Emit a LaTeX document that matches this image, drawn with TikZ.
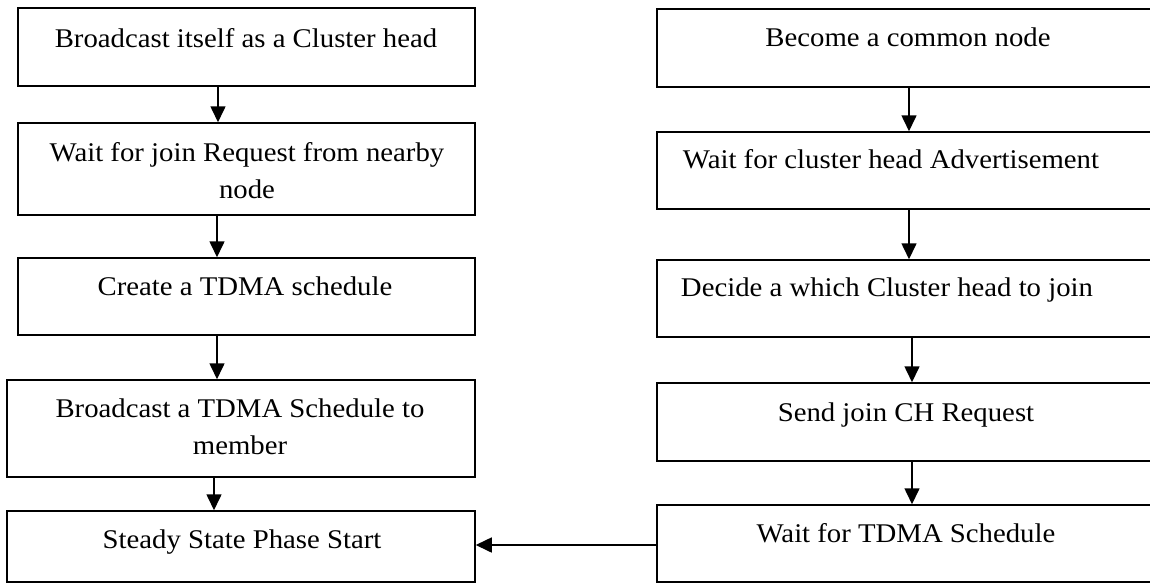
\documentclass[tikz,border=0pt]{standalone}
\usepackage{fontspec}
\setmainfont[FakeStretch=1.065]{Liberation Serif}
\usetikzlibrary{arrows.meta}
\begin{document}
\begin{tikzpicture}[x=1pt,y=-1pt,
  box/.style={draw=black, line width=1.5pt, fill=white, inner sep=0pt},
  txt/.style={font=\fontsize{27}{37}\selectfont, anchor=base, align=center, inner sep=0pt},
  arr/.style={line width=1.6pt, -{Triangle[length=16pt,width=15pt]}}]
\useasboundingbox (0,0) rectangle (1150,584);
\clip (0,0) rectangle (1150,584);
\fill[white] (0,0) rectangle (1150,584);
% left column boxes
\node[box, minimum width=457pt, minimum height=78pt] (b1) at (246.5,47) {};
\node[box, minimum width=457pt, minimum height=92pt] (b2) at (246.5,169) {};
\node[box, minimum width=457pt, minimum height=77pt] (b3) at (246.5,296.5) {};
\node[box, minimum width=468pt, minimum height=97pt] (b4) at (241,428.5) {};
\node[box, minimum width=468pt, minimum height=71pt] (b5) at (241,546.5) {};
% right column boxes
\node[box, minimum width=506pt, minimum height=78pt] (r1) at (910,48) {};
\node[box, minimum width=506pt, minimum height=77pt] (r2) at (910,170.5) {};
\node[box, minimum width=506pt, minimum height=77pt] (r3) at (910,298.5) {};
\node[box, minimum width=506pt, minimum height=78pt] (r4) at (910,422) {};
\node[box, minimum width=506pt, minimum height=77pt] (r5) at (910,543.5) {};
% texts
\node[txt] (t1) at (246,47) {Broadcast itself as a Cluster head};
\node[txt] (t2) at (247,198) {Wait for join Request from nearby\\node};
\node[txt] (t3) at (245,295) {Create a TDMA schedule};
\node[txt] (t4) at (240,454) {Broadcast a TDMA Schedule to\\member};
\node[txt] (t5) at (242,548) {Steady State Phase Start};
\node[txt] (u1) at (908,46) {Become a common node};
\node[txt] (u2) at (891,168) {Wait for cluster head Advertisement};
\node[txt] (u3) at (887,296) {Decide a which Cluster head to join};
\node[txt] (u4) at (906,421) {Send join CH Request};
\node[txt] (u5) at (906,542) {Wait for TDMA Schedule};
% connectors
\draw[arr] (b1.south -| 218,0) -- (b2.north -| 218,0);
\draw[arr] (b2.south -| 217,0) -- (b3.north -| 217,0);
\draw[arr] (b3.south -| 217,0) -- (b4.north -| 217,0);
\draw[arr] (b4.south -| 214,0) -- (b5.north -| 214,0);
\draw[arr] (r1.south -| 909,0) -- (r2.north -| 909,0);
\draw[arr] (r2.south -| 909,0) -- (r3.north -| 909,0);
\draw[arr] (r3.south -| 912,0) -- (r4.north -| 912,0);
\draw[arr] (r4.south -| 912,0) -- (r5.north -| 912,0);
\draw[arr] (r5.west |- 0,545) -- (b5.east |- 0,545);
\end{tikzpicture}
\end{document}
